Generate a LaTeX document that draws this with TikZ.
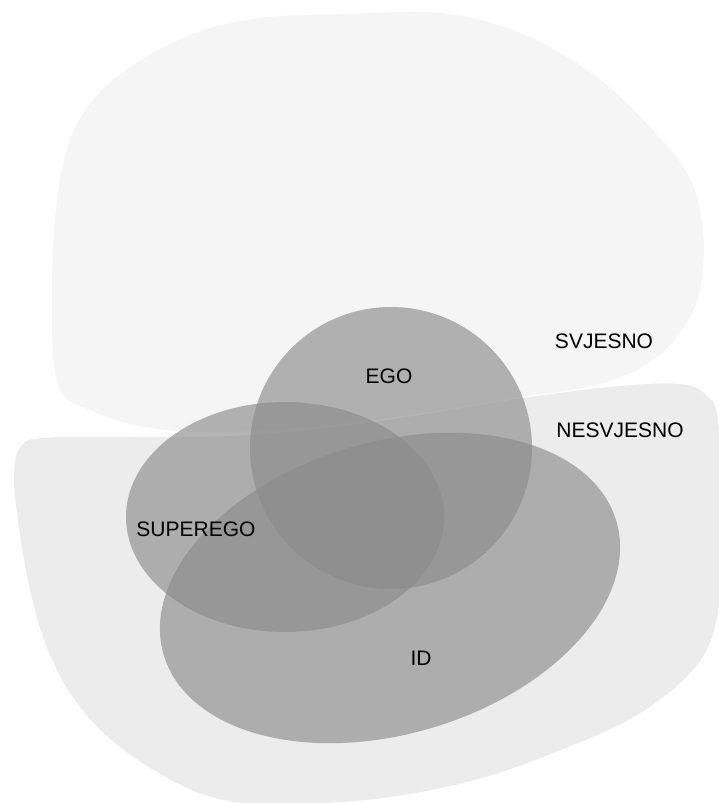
\documentclass[tikz,border=0pt]{standalone}
\usepackage{fontspec}
\setmainfont{Liberation Sans}
\usepackage{tikz}
\definecolor{svjesnocolor}{HTML}{F5F5F5}
\definecolor{nesvjesnocolor}{HTML}{ECECEC}
\newcommand{\partcolor}{black!45}
\newcommand{\partopacity}{0.65}
\tikzset{
  part/.style={fill=\partcolor, fill opacity=\partopacity},
  label/.style={font=\fontsize{21}{25}\selectfont, inner sep=0pt}
}

\begin{document}
\begin{tikzpicture}[x=1pt,y=-1pt]
\useasboundingbox (0,0) rectangle (718,803);
%svjesno
\fill[svjesnocolor] plot[smooth cycle, tension=0.6] coordinates {
  (52,300) (57,200) (75,128) (118,76) (188,36) (260,18) (350,14) (440,13)
  (518,32) (590,72) (645,122) (688,175) (703,232) (700,290) (682,330)
  (650,362) (600,384) (523,397) (430,412) (330,425) (230,432) (150,428)
  (90,410) (58,385)};
%nesvjesno
\fill[nesvjesnocolor] plot[smooth cycle, tension=0.6] coordinates {
  (18,520) (14,475) (20,448) (42,438) (130,437) (250,435) (380,421)
  (523,398) (620,386) (680,384) (705,394) (718,420) (724,520) (718,612)
  (697,665) (642,712) (573,745) (482,778) (390,797) (300,804) (229,801)
  (175,782) (115,743) (75,700) (48,650) (30,590)};
%ego, superego, id
\fill[part] (391,448) circle (141);
\fill[part] (285,517) ellipse (159 and 115);
\fill[part, rotate around={16.5:(390,588)}] (390,588) ellipse (236 and 146);
%labels
\node[label] (svjesno) at (604,341) {SVJESNO};
\node[label] (nesvjesno) at (620,430) {NESVJESNO};
\node[label] (ego) at (389,376) {EGO};
\node[label] (superego) at (196,529) {SUPEREGO};
\node[label] (id) at (421,658) {ID};
\end{tikzpicture}
\end{document}
